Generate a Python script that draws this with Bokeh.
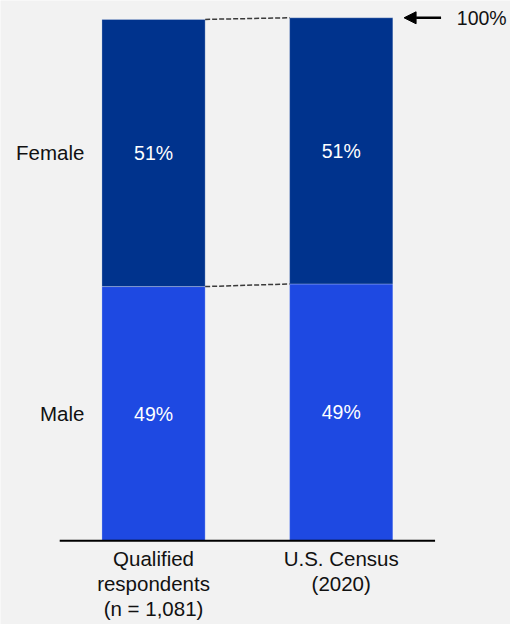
from bokeh.plotting import figure
from bokeh.models import Range1d, Arrow, NormalHead, ColumnDataSource
from bokeh.core.properties import value
from bokeh.embed import file_html
from bokeh.resources import INLINE

# ---- data ----
categories = ["Qualified\nrespondents\n(n = 1,081)", "U.S. Census\n(2020)"]
segments = ["Male", "Female"]
male = [48.6, 49.1]
female = [51.1, 50.9]
reference_total = 100

# ---- style ----
BG = "#f2f2f2"
DARK = "#00338d"
LIGHT = "#1e49e2"
FONT = "Liberation Sans"
BAR_W = 0.55

xs = [i + 0.5 for i in range(len(categories))]
tops = [m + f for m, f in zip(male, female)]

p = figure(width=510, height=624, output_backend="svg", toolbar_location=None,
           x_range=Range1d(-0.3155, 2.402), y_range=Range1d(-16.03, 103.31),
           x_axis_location=None, y_axis_location=None,
           min_border_left=0, min_border_right=0,
           min_border_top=0, min_border_bottom=0)
p.background_fill_color = BG
p.border_fill_color = BG
p.outline_line_color = None
p.grid.visible = False

src = ColumnDataSource(dict(x=xs, male=male, female=female, top=tops,
                            cat=categories,
                            male_lab=[f"{v:.0f}%" for v in male],
                            female_lab=[f"{v:.0f}%" for v in female],
                            male_mid=[m / 2 for m in male],
                            female_mid=[m + f / 2 for m, f in zip(male, female)]))

p.vbar(x="x", bottom=0, top="male", width=BAR_W, source=src,
       fill_color=LIGHT, line_color="#ffffff", line_alpha=0.25, line_width=1)
p.vbar(x="x", bottom="male", top="top", width=BAR_W, source=src,
       fill_color=DARK, line_color="#ffffff", line_alpha=0.25, line_width=1)

# in-bar labels
for col, ycol in (("male_lab", "male_mid"), ("female_lab", "female_mid")):
    p.text(x="x", y=ycol, text=col, source=src, text_color="white",
           text_font=value(FONT), text_font_size="19.5px",
           text_align="center", text_baseline="middle")

# dashed connectors between the bars
x0 = xs[0] + BAR_W / 2
x1 = xs[1] - BAR_W / 2
p.segment(x0=[x0, x0], y0=[male[0], tops[0]], x1=[x1, x1], y1=[male[1], tops[1]],
          line_color="#3a3a3a", line_width=1.5, line_dash="5 2")

# segment names on the left
p.text(x=[xs[0] - BAR_W / 2] * 2, y=[male[0] / 2, male[0] + female[0] / 2],
       text=segments, text_color="#111111", text_font=value(FONT),
       text_font_size="20.5px", text_align="right", text_baseline="middle",
       x_offset=-17.5)

# 100% marker
right_edge = xs[1] + BAR_W / 2
p.add_layout(Arrow(end=NormalHead(size=12, fill_color="black", fill_alpha=1.0,
                                  line_color="black", line_width=1),
                   x_start=right_edge + 0.257, y_start=reference_total,
                   x_end=right_edge + 0.06, y_end=reference_total,
                   line_color="black", line_width=2.5))
p.text(x=[right_edge + 0.341], y=[reference_total], text=[f"{reference_total}%"],
       text_color="#111111", text_font=value(FONT), text_font_size="19.5px",
       text_align="left", text_baseline="middle")

# category axis: baseline and labels
p.segment(x0=[0], y0=[0], x1=[len(categories)], y1=[0],
          line_color="black", line_width=2)
p.text(x="x", y=0, text="cat", source=src, text_color="#111111",
       text_font=value(FONT), text_font_size="20.5px", text_align="center",
       text_baseline="top", text_line_height=1.1, y_offset=6)

open("out.html", "w").write(file_html(p, INLINE))
